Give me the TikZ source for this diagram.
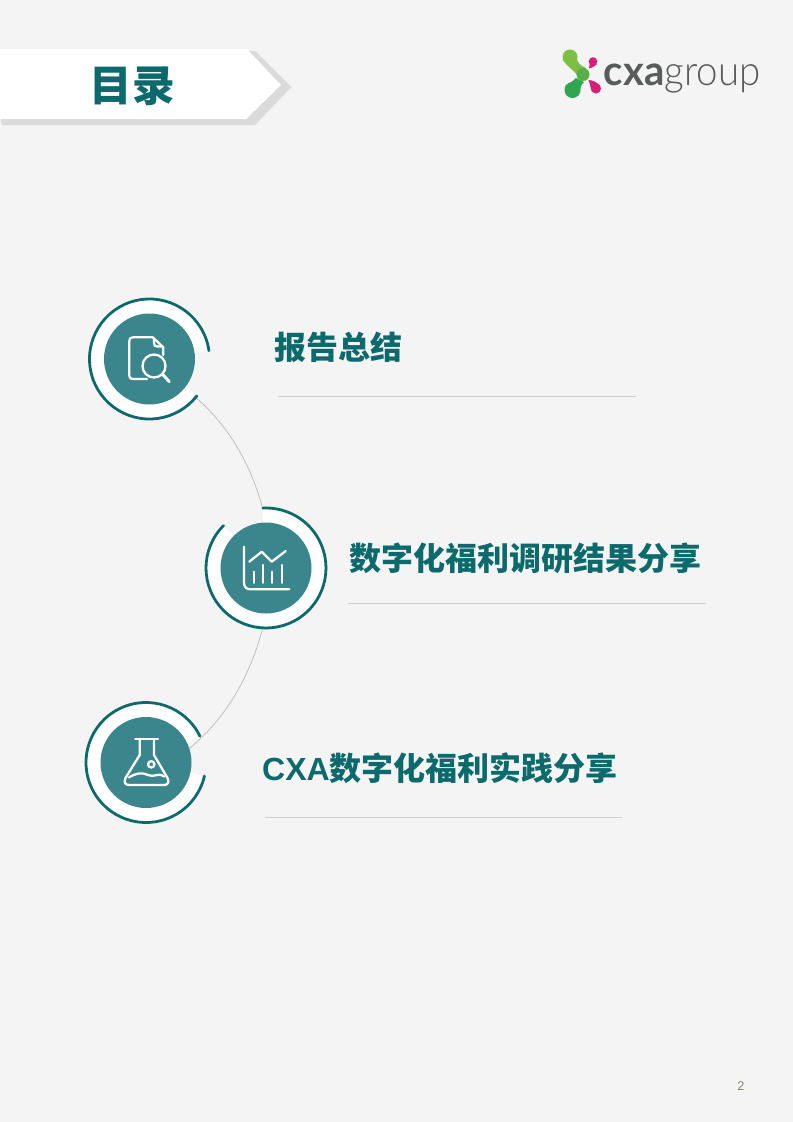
\documentclass[tikz,border=0pt]{standalone}
\usepackage{fontspec}
\setmainfont{Liberation Sans}
\newfontfamily\cjk{Noto Sans CJK SC}
\newfontfamily\logob{Lato}[BoldFont=* Bold,FakeStretch=0.97]
\newfontfamily\logol{Lato}[UprightFont=* Light,FakeStretch=0.93]
\definecolor{teal1}{HTML}{0D6A6C}
\definecolor{disc}{HTML}{3A868C}
\definecolor{bgc}{HTML}{F4F4F4}
\definecolor{shadowc}{HTML}{DADADA}
\definecolor{rulec}{HTML}{CFCFCF}
\definecolor{logog}{HTML}{5A5C5C}
\definecolor{gl}{HTML}{7DBF45}
\definecolor{gm}{HTML}{58B048}
\definecolor{gd}{HTML}{2FA64F}
\definecolor{pink1}{HTML}{D91E78}
\definecolor{pagec}{HTML}{85856F}
\tikzset{
  discnode/.style={circle,fill=disc,minimum size=68.25pt,inner sep=0pt},
  whitearc/.style={draw=white,line width=12pt},
  ringarc/.style={draw=teal1,line width=2.1pt,line cap=round},
  conn/.style={draw=black!25,line width=0.6pt},
  heading/.style={font=\cjk\bfseries\fontsize{24pt}{24pt}\selectfont,text=teal1,inner sep=0pt},
  uline/.style={draw=rulec,line width=0.6pt},
  iconl/.style={draw=white,line width=1.7pt,line cap=round,line join=round}
}
\begin{document}
\begin{tikzpicture}[x=0.75pt,y=-0.75pt]
\useasboundingbox (0,0) rectangle (793,1122);
\fill[bgc] (0,0) rectangle (793,1122);
% banner
\fill[shadowc] (1,60) -- (255,51) -- (291.5,87) -- (255,125) -- (3,125) [rounded corners=1pt] -- (1,123) -- cycle;
\fill[white] (0,49) -- (247,49) -- (281,85) -- (246,119) -- (0,119) -- cycle;
\node[font=\cjk\bfseries\fontsize{32pt}{32pt}\selectfont,text=teal1,inner sep=0pt] (title) at (132,86) {目录};
% logo
\fill[gl] (570,57) circle[radius=7.5];
\fill[gl] (563.2,60) -- (576.5,57) .. controls (577,62) and (580,66) .. (586,68) -- (578,76) .. controls (574,70) and (566,66) .. (563.2,60) -- cycle;
\fill[gd] (572.5,90) circle[radius=8];
\fill[gd] (565,86) .. controls (570,83) and (573,81) .. (576,78) -- (584,82) .. controls (581,85) and (580,88) .. (580,92) -- cycle;
\fill[gm] (583,74.5) circle[radius=6.5];
\fill[pink1] (593,61.5) circle[radius=4.3];
\fill[pink1] (589,68.5) .. controls (590,64) and (589.5,61) .. (589,60) -- (597,64) .. controls (594,67) and (591,68) .. (589,68.5) -- cycle;
\fill[pink1] (596,88.5) circle[radius=5];
\fill[pink1] (588.5,80) .. controls (593,80) and (598,83) .. (600.5,86) -- (592,92) .. controls (590,87) and (590,83) .. (588.5,80) -- cycle;
\node[anchor=base west,inner sep=0pt,text=logog,font=\logob\bfseries\fontsize{31pt}{31pt}\selectfont] (cxa) at (603.5,85) {cxa};
\node[anchor=base west,inner sep=0pt,text=logog,font=\logol\fontsize{31pt}{31pt}\selectfont] (grp) at (664.5,85) {group};
% discs named first (invisible), so that connectors lie below them
\node[circle,minimum size=68.25pt,inner sep=0pt] (d1) at (149.5,359) {};
\node[circle,minimum size=68.25pt,inner sep=0pt] (d2) at (266,568) {};
\node[circle,minimum size=68.25pt,inner sep=0pt] (d3) at (146,762.5) {};
\draw[conn] (d1.-40) .. controls (224,418) and (253,462) .. (d2.90);
\draw[conn] (d2.-90) .. controls (253,676) and (224,720) .. (d3.18);
% rings
\draw[whitearc] (d1.center) ++(-8:53) arc[start angle=-8,end angle=-322,radius=53];
\draw[ringarc] (d1.center) ++(-8:60) arc[start angle=-8,end angle=-322,radius=60];
\draw[whitearc] (d2.center) ++(-135:53) arc[start angle=-135,end angle=-453,radius=53];
\draw[ringarc] (d2.center) ++(-135:60) arc[start angle=-135,end angle=-453,radius=60];
\draw[whitearc] (d3.center) ++(-26:53) arc[start angle=-26,end angle=-347,radius=53];
\draw[ringarc] (d3.center) ++(-26:60) arc[start angle=-26,end angle=-347,radius=60];
\node[discnode] at (d1) {};
\node[discnode] at (d2) {};
\node[discnode] at (d3) {};
% icon 1
\draw[iconl] (163.3,355) -- (163.3,347.3) -- (152.7,337.3) -- (133,337.3) .. controls (130.5,337.3) and (129.3,338.5) .. (129.3,341) -- (129.3,375.5) .. controls (129.3,378) and (130.5,379) .. (133,379) -- (147,379);
\draw[iconl] (154,338.5) -- (154,343) .. controls (154,345.5) and (155,346.5) .. (157.5,346.5) -- (162,346.5);
\draw[iconl] (154,366) circle[radius=11.5];
\draw[iconl,line width=2.2pt] (163.3,375) -- (169.3,381.7);
% icon 2
\draw[iconl] (244,546.7) -- (244,582) .. controls (244,587) and (246,589.3) .. (251,589.3) -- (289.3,589.3);
\draw[iconl] (249.3,561.7) -- (261.7,551.7) -- (271.7,561.7) -- (285.7,551);
\draw[iconl] (254,571.7) -- (254,582.7) (262.7,565) -- (262.7,582.7) (272.3,571.7) -- (272.3,582.7) (281.7,565) -- (281.7,582.7);
% icon 3
\draw[iconl] (135.3,739.3) -- (158,739.3);
\draw[iconl] (139.7,740) -- (139.7,755) -- (125.5,778) .. controls (123.5,782) and (125,785) .. (129,785) -- (164,785) .. controls (168,785) and (169.5,782) .. (167.5,778) -- (154,755) -- (154,740);
\draw[iconl] (129,777.5) .. controls (136,773) and (142,772) .. (148,775) .. controls (154,778) and (158,772) .. (164,776.5);
\draw[iconl] (151.3,764.3) circle[radius=3.2];
% headings
\node[heading] (h1) at (338,347) {报告总结};
\node[heading] (h2) at (525,558) {数字化福利调研结果分享};
\node[heading] (h3) at (440,768) {{\setmainfont{Liberation Sans}\rmfamily\bfseries CXA}数字化福利实践分享};
\draw[uline] (278,396) -- (636,396);
\draw[uline] (348,603) -- (706,603);
\draw[uline] (265,817) -- (622,817);
\node[inner sep=0pt,text=pagec,font=\fontsize{9.5pt}{9.5pt}\selectfont] (pg) at (741,1086) {2};
\end{tikzpicture}
\end{document}
